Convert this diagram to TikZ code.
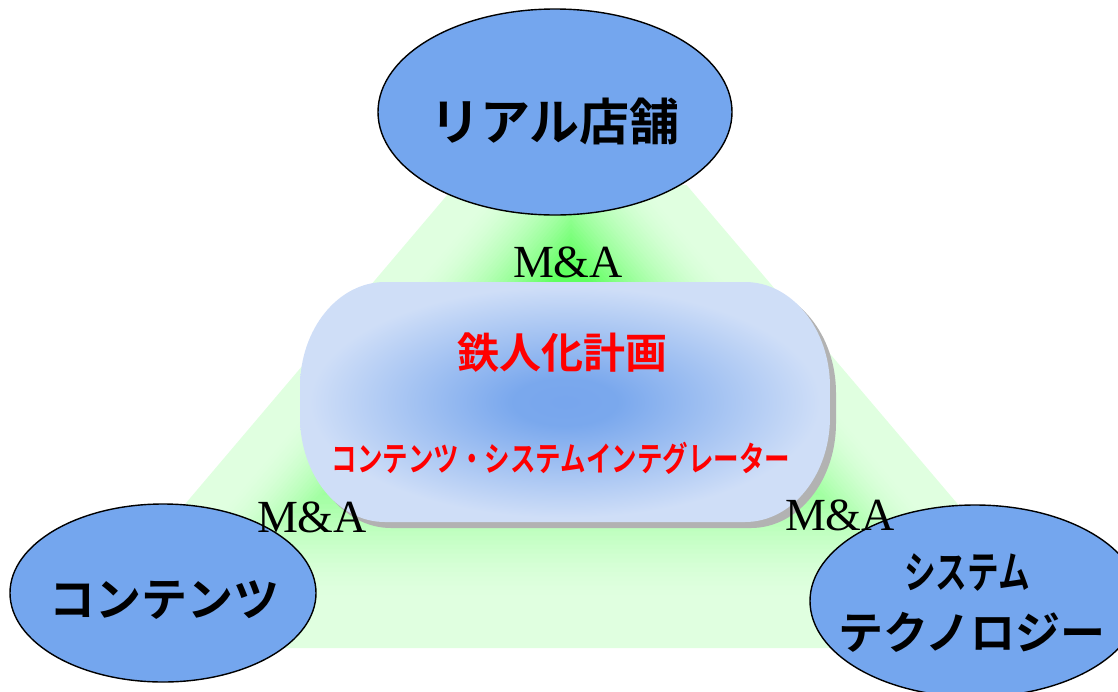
\documentclass[tikz,border=0pt]{standalone}
\usepackage{fontspec}
\setmainfont{Liberation Serif}
\newfontfamily\jp[BoldFont={* Bold}]{Noto Sans CJK JP}
\usetikzlibrary{shapes.geometric}
\definecolor{ellblue}{RGB}{116,166,238}
\definecolor{lightgreen}{RGB}{224,255,224}
\definecolor{brightgreen}{RGB}{95,255,95}
\pgfdeclareradialshading{bluecore}{\pgfpoint{0bp}{0bp}}{rgb(0bp)=(0.47,0.65,0.93); rgb(5bp)=(0.48,0.66,0.93); rgb(24bp)=(0.81,0.87,0.97); rgb(50bp)=(0.81,0.87,0.97)}
\tikzset{
  corner/.style={ellipse, draw=black, line width=1.4pt, fill=ellblue, inner sep=0pt},
  blacktext/.style={font=\jp\bfseries\fontsize{#1}{#1}\selectfont, text=black, inner sep=0pt},
  redtext/.style={font=\jp\bfseries\fontsize{#1}{#1}\selectfont, text=red, inner sep=0pt},
  mna/.style={font=\fontsize{46}{46}\selectfont, text=black, inner sep=0pt}
}
\begin{document}
\begin{tikzpicture}[x=1pt,y=-1pt]
\useasboundingbox (0,0) rectangle (1118,691);
\clip (0,0) rectangle (1118,691);
% green triangle with path gradient (triangular contours about its box centre)
\begin{scope}
  \clip (0,185) rectangle (1118,648);
  \foreach \i in {0,...,50}{
    \pgfmathsetmacro{\s}{1-0.75*\i/50}
    \pgfmathsetmacro{\p}{100*(min(1,max(0,(0.85-\s)/0.55)))^1.6}
    \colorlet{tmpgreen}{brightgreen!\p!lightgreen}
    \begin{scope}[shift={(571,348)}, scale=\s]
      \fill[tmpgreen] (0,-299) -- (-508,300) -- (509,300) -- cycle;
    \end{scope}
  }
\end{scope}
% corner ellipses
\node[corner, minimum width=354, minimum height=206] (store) at (555,112) {};
\node[corner, minimum width=306, minimum height=178] (contents) at (163,593) {};
\node[corner, minimum width=330, minimum height=192] (system) at (975,601) {};
% stadium shadow
\fill[black!30] (391,288) -- (751,288) arc[start angle=-90, end angle=0, x radius=85, y radius=105]
  -- (836,423) arc[start angle=0, end angle=90, x radius=85, y radius=105]
  -- (391,528) arc[start angle=90, end angle=180, x radius=85, y radius=105]
  -- (306,393) arc[start angle=180, end angle=270, x radius=85, y radius=105] -- cycle;
% stadium
\shade[shading=bluecore] (385,282) -- (745,282) arc[start angle=-90, end angle=0, x radius=85, y radius=105]
  -- (830,417) arc[start angle=0, end angle=90, x radius=85, y radius=105]
  -- (385,522) arc[start angle=90, end angle=180, x radius=85, y radius=105]
  -- (300,387) arc[start angle=180, end angle=270, x radius=85, y radius=105] -- cycle;
% texts
\node[blacktext=50] (storetxt) at (555,121) {リアル店舗};
\node[blacktext=46] (contentstxt) at (164,600) {コンテンツ};
\node[blacktext=44] (systxt1) at (967,572) {\scalebox{0.72}[1]{システム}};
\node[blacktext=45] (systxt2) at (972,632) {テクノロジー};
\node[redtext=42] (title) at (562,353) {鉄人化計画};
\node[redtext=34] (subtitle) at (561,458) {\scalebox{0.75}[1]{コンテンツ・システムインテグレーター}};
\node[mna] (mnatop) at (568,262) {M\&A};
\node[mna] (mnaleft) at (312,517) {M\&A};
\node[mna] (mnaright) at (840,515) {M\&A};
\end{tikzpicture}
\end{document}
